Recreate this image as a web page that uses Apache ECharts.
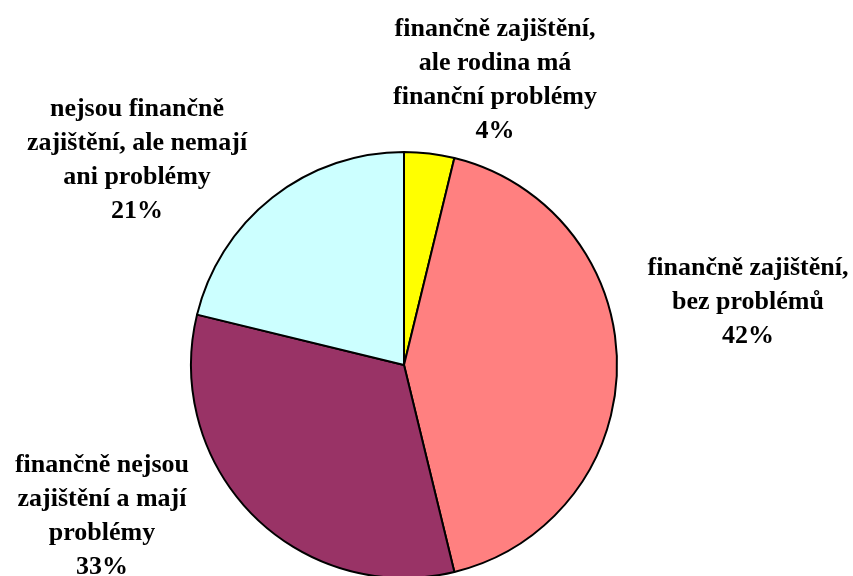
<!DOCTYPE html>
<html>
<head>
<meta charset="utf-8">
<script src="https://cdn.jsdelivr.net/npm/echarts@6/dist/echarts.min.js"></script>
<style>
  html, body { margin: 0; padding: 0; background: #fff; }
  #chart { width: 853px; height: 576px; }
</style>
</head>
<body>
<div id="chart"></div>
<script>
  // slices clockwise from 12 o'clock
  var categories = [
    'finančně zajištění,\nale rodina má\nfinanční problémy',
    'finančně zajištění,\nbez problémů',
    'finančně nejsou\nzajištění a mají\nproblémy',
    'nejsou finančně\nzajištění, ale nemají\nani problémy'
  ];
  var values = [3.8, 42.4, 32.6, 21.2];
  var colors = ['#FFFF00', '#FF8080', '#993366', '#CCFFFF'];

  // label block centres
  var labelPos = [[495, 80], [748, 302], [102, 516], [137, 160]];

  var chartDom = document.getElementById('chart');
  var myChart = echarts.init(chartDom);

  var data = categories.map(function (c, i) {
    return { name: c, value: values[i], itemStyle: { color: colors[i] } };
  });

  var option = {
    animation: false,
    series: [{
      type: 'pie',
      center: [404, 365],
      radius: 213,
      startAngle: 90,
      clockwise: true,
      data: data,
      itemStyle: { borderColor: '#000', borderWidth: 2 },
      emphasis: { disabled: true },
      labelLine: { show: false },
      label: {
        show: true,
        position: 'outside',
        alignTo: 'none',
        overflow: 'none',
        fontFamily: '"Liberation Serif", "Times New Roman", serif',
        fontWeight: 'bold',
        fontSize: 26,
        lineHeight: 34,
        color: '#000',
        align: 'center',
        formatter: function (p) {
          return p.name + '\n' + Math.round(p.percent) + '%';
        }
      },
      labelLayout: function (params) {
        var p = labelPos[params.dataIndex];
        return { x: p[0], y: p[1], align: 'center', verticalAlign: 'middle' };
      }
    }]
  };

  option && myChart.setOption(option);
</script>
</body>
</html>
